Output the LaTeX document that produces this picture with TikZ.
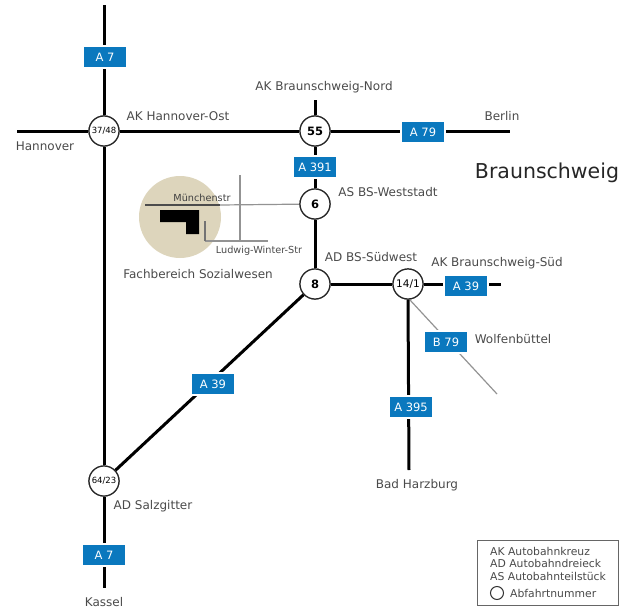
\documentclass[tikz,border=0pt]{standalone}
\usepackage{fontspec}
\setmainfont{DejaVu Sans}
\definecolor{shieldblue}{HTML}{0A78BE}
\definecolor{campus}{HTML}{DDD5BC}
\definecolor{labelgrey}{HTML}{4A4A4A}
\newcommand{\fs}[1]{\fontsize{#1}{#1}\selectfont}
\tikzset{x=1pt,y=-1pt,
  road/.style={line width=3pt,black},
  minor/.style={line width=1.2pt,gray!85},
  exitnode/.style={circle,draw=black!85,line width=1.2pt,fill=white,minimum size=30pt,inner sep=0pt,font=\fs{11.5}\bfseries},
  exitsmall/.style={exitnode,font=\fs{8.5}},
  exitmid/.style={exitnode,font=\fs{10.5}},
  shield/.style={rectangle,draw=white,line width=1.5pt,fill=shieldblue,text=white,minimum width=44pt,minimum height=22pt,inner sep=0pt,font=\fs{11.5}},
  lab/.style={inner sep=0pt,text=labelgrey,font=\fs{12}},
  smalllab/.style={lab,font=\fs{9.7}},
  leglab/.style={lab,font=\fs{10.8},anchor=west}}
\begin{document}
\begin{tikzpicture}
\useasboundingbox (0,0) rectangle (622,608);
\fill[campus] (180,217) circle (41);
\coordinate (mW) at (145,205);
\coordinate (mM) at (220,205);
\coordinate (lT) at (240,175);
\coordinate (lB) at (240,241);
\coordinate (lL) at (205,241);
\coordinate (lR) at (268,241);
\coordinate (lU) at (205,221);
\coordinate (rN) at (104,5);
\coordinate (rS) at (104,588);
\coordinate (rW) at (17,131);
\coordinate (rE) at (510,131);
\coordinate (rT) at (315,100);
\coordinate (rF) at (501,284);
\coordinate (rH) at (409,470);
\coordinate (wS) at (410,300);
\coordinate (wE) at (497,394);
\node[exitsmall] (k1) at (104,131) {37/48};
\node[exitnode] (k55) at (315,131) {55};
\node[exitnode] (k6) at (315,204) {6};
\node[exitnode] (k8) at (315,284) {8};
\node[exitmid] (k14) at (408,284) {14/1};
\node[exitsmall] (k64) at (104,481) {64/23};
\draw[minor] (mM) -- (k6);
\draw[minor] (lT) -- (lB);
\draw[minor] (lL) -- (lR);
\draw[line width=1.5pt,black!70] (mW) -- (mM);
\draw[line width=1.5pt,black!55] (lU) -- (lL);
\fill[black] (160,210) -- (199,210) -- (199,234) -- (186,234) -- (186,222) -- (160,222) -- cycle;
\draw[minor] (wS) -- (wE);
\draw[road] (rN) -- (k1);
\draw[road] (k1) -- (k64);
\draw[road] (k64) -- (rS);
\draw[road] (rW) -- (k1);
\draw[road] (k1) -- (k55);
\draw[road] (k55) -- (rE);
\draw[road] (rT) -- (k55);
\draw[road] (k55) -- (k6);
\draw[road] (k6) -- (k8);
\draw[road] (k8) -- (k14);
\draw[road] (k14) -- (rF);
\draw[road] (k14.south) -- (rH);
\draw[road] (k8) -- (k64);
\node[exitsmall] at (k1) {37/48};
\node[exitnode] at (k55) {55};
\node[exitnode] at (k6) {6};
\node[exitnode] at (k8) {8};
\node[exitmid] at (k14) {14/1};
\node[exitsmall] at (k64) {64/23};
\node[shield] (s1) at (105,57) {A 7};
\node[shield] (s2) at (423,132) {A 79};
\node[shield] (s3) at (315,167) {A 391};
\node[shield] (s4) at (466,286) {A 39};
\node[shield] (s5) at (446,342) {B 79};
\node[shield] (s6) at (411,407) {A 395};
\node[shield] (s7) at (213,384) {A 39};
\node[shield] (s8) at (104,555) {A 7};
\node[lab] (t1) at (178,116) {AK Hannover-Ost};
\node[lab] (t2) at (45,146) {Hannover};
\node[lab] (t3) at (324,87) {AK Braunschweig-Nord};
\node[lab] (t4) at (502,116) {Berlin};
\node[inner sep=0pt,text=black!85,font=\fs{20.5}] (t5) at (547,173) {Braunschweig};
\node[lab] (t6) at (388,192) {AS BS-Weststadt};
\node[smalllab,text=black!75] (t7) at (202,198) {Münchenstr};
\node[smalllab] (t8) at (259,251) {Ludwig-Winter-Str};
\node[lab] (t9) at (198,274) {Fachbereich Sozialwesen};
\node[lab] (t10) at (371,257) {AD BS-Südwest};
\node[lab] (t11) at (497,263) {AK Braunschweig-Süd};
\node[lab] (t12) at (513,339) {Wolfenbüttel};
\node[lab] (t13) at (417,485) {Bad Harzburg};
\node[lab] (t14) at (153,506) {AD Salzgitter};
\node[lab] (t15) at (104,602) {Kassel};
\node[draw=black!60,line width=1pt,fill=white,minimum width=141pt,minimum height=65pt,inner sep=0pt] (leg) at (547.5,572.5) {};
\node[leglab] (l1) at (490,551) {AK Autobahnkreuz};
\node[leglab] (l2) at (490,563) {AD Autobahndreieck};
\node[leglab] (l3) at (490,576) {AS Autobahnteilstück};
\node[circle,draw=black!80,line width=1pt,minimum size=13pt,inner sep=0pt] (l4) at (497,593) {};
\node[leglab] (l5) at (510,593) {Abfahrtnummer};
\end{tikzpicture}
\end{document}
